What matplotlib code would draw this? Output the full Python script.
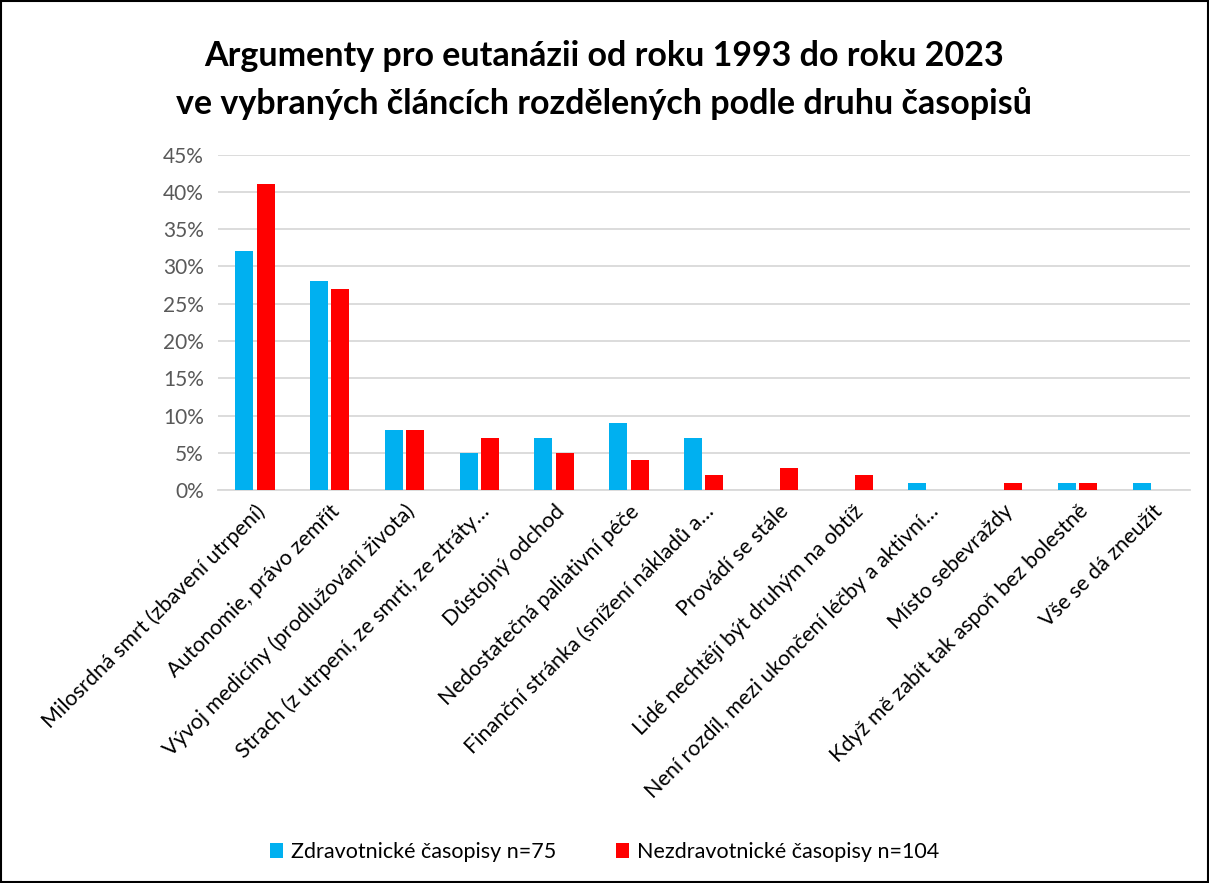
import matplotlib
matplotlib.use("Agg")
import matplotlib.pyplot as plt
import numpy as np
from matplotlib.patches import Rectangle

plt.rcParams['font.family'] = ['Lato', 'DejaVu Sans']

categories = [
    "Milosrdná smrt (zbavení utrpení)",
    "Autonomie, právo zemřít",
    "Vývoj medicíny (prodlužování života)",
    "Strach (z utrpení, ze smrti, ze ztráty…",
    "Důstojný odchod",
    "Nedostatečná paliativní péče",
    "Finanční stránka (snížení nákladů a…",
    "Provádí se stále",
    "Lidé nechtějí být druhým na obtíž",
    "Není rozdíl, mezi ukončení léčby a aktivní…",
    "Místo sebevraždy",
    "Když mě zabít tak aspoň bez bolestně",
    "Vše se dá zneužít",
]
zdrav = [32, 28, 8, 5, 7, 9, 7, 0, 0, 1, 0, 1, 1]
nezdrav = [41, 27, 8, 7, 5, 4, 2, 3, 2, 0, 1, 1, 0]
series_names = ["Zdravotnické časopisy n=75", "Nezdravotnické časopisy n=104"]
yticks = [0, 5, 10, 15, 20, 25, 30, 35, 40, 45]

fig = plt.figure(figsize=(12.09, 8.83), dpi=100)
ax = fig.add_axes([0.180, 0.445, 0.804, 0.380])

x = np.arange(len(categories))
w = 0.24
off = 0.143
b1 = ax.bar(x - off, zdrav, w, color="#00B0F0", label=series_names[0], zorder=3)
b2 = ax.bar(x + off, nezdrav, w, color="#FF0000", label=series_names[1], zorder=3)

ax.set_xlim(-0.5, len(categories) - 0.5)
ax.set_ylim(0, 45)
ax.set_yticks(yticks)
ax.set_yticklabels([f"{v}%" for v in yticks], fontsize=15, color="#595959")
ax.yaxis.grid(True, color="#D9D9D9", linewidth=1.3, zorder=0)
ax.set_axisbelow(True)
for s in ["top", "right", "left"]:
    ax.spines[s].set_visible(False)
ax.spines["bottom"].set_color("#D9D9D9")
ax.spines["bottom"].set_linewidth(1.3)
ax.tick_params(axis="both", length=0)
ax.tick_params(axis="y", pad=10)
ax.set_xticks(x)
ax.set_xticklabels(categories, rotation=45, ha="right", va="top",
                   rotation_mode="anchor", fontsize=15.5, color="black")
ax.tick_params(axis="x", pad=8)

fig.text(0.5, 0.937, "Argumenty pro eutanázii od roku 1993 do roku 2023",
         ha="center", va="center", fontsize=24.5, fontweight="bold")
fig.text(0.5, 0.883, "ve vybraných článcích rozdělených podle druhu časopisů",
         ha="center", va="center", fontsize=24.5, fontweight="bold")

leg = fig.legend(handles=[b1, b2], loc="center", bbox_to_anchor=(0.5, 0.035),
                 ncol=2, frameon=False, fontsize=15.5, handlelength=0.6,
                 handleheight=0.7, handletextpad=0.35, columnspacing=2.8)

fig.patches.append(Rectangle((0.001, 0.001), 0.998, 0.998, transform=fig.transFigure,
                             fill=False, edgecolor="black", linewidth=1.5))

fig.savefig("out.png", dpi=100)
